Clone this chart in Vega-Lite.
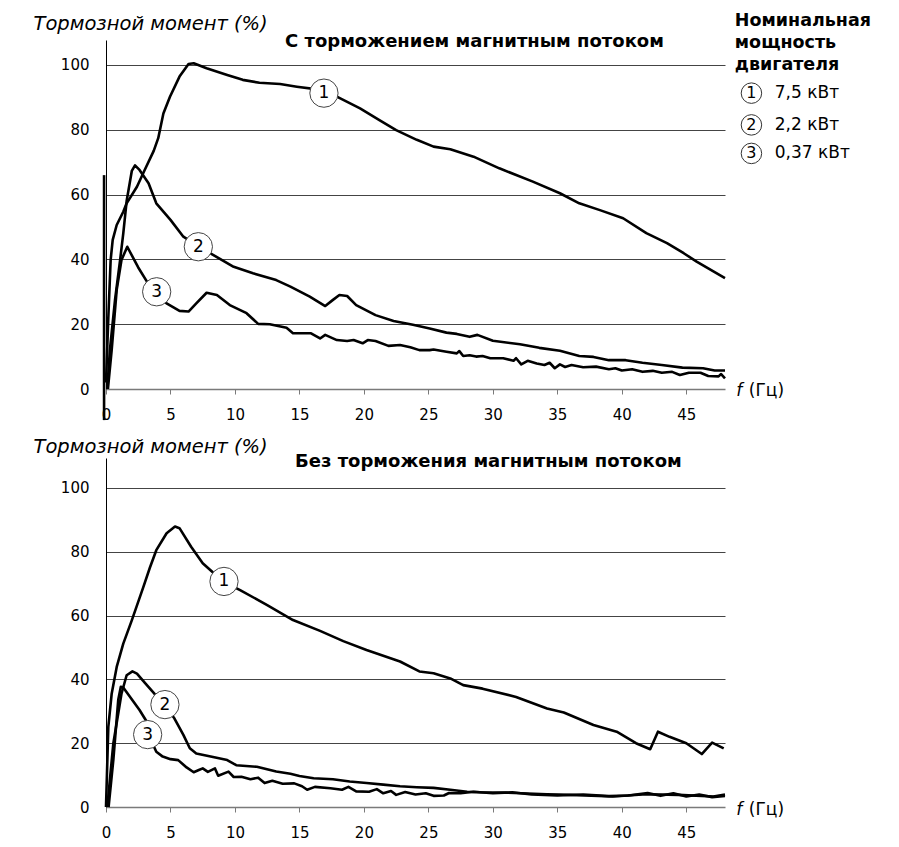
{
  "$schema": "https://vega.github.io/schema/vega-lite/v6.json",
  "background": "white",
  "autosize": {"type": "pad"},
  "padding": {"left": 33, "top": 12, "right": 5, "bottom": 5},
  "bounds": "flush",
  "spacing": 69,
  "config": {
    "font": "DejaVu Sans",
    "view": {"stroke": null},
    "title": {"font": "DejaVu Sans", "fontSize": 18, "fontWeight": "bold", "color": "black", "anchor": "start", "frame": "group", "baseline": "alphabetic"}
  },
  "datasets": {
    "top": [
      {"s": "0", "f": -0.15, "v": 66}, {"s": "0", "f": -0.15, "v": -9.6},
      {"s": "1", "f": 0.0, "v": 2}, {"s": "1", "f": 0.18, "v": 22}, {"s": "1", "f": 0.36, "v": 39.8}, {"s": "1", "f": 0.52, "v": 46}, {"s": "1", "f": 0.83, "v": 50.6}, {"s": "1", "f": 1.34, "v": 54.7}, {"s": "1", "f": 1.6, "v": 57.3}, {"s": "1", "f": 2.4, "v": 62.4}, {"s": "1", "f": 3.0, "v": 67.6}, {"s": "1", "f": 3.7, "v": 73.5}, {"s": "1", "f": 4.05, "v": 77.4}, {"s": "1", "f": 4.45, "v": 85}, {"s": "1", "f": 4.96, "v": 90.2}, {"s": "1", "f": 5.7, "v": 96.4}, {"s": "1", "f": 6.4, "v": 100.3}, {"s": "1", "f": 6.8, "v": 100.5}, {"s": "1", "f": 7.8, "v": 99}, {"s": "1", "f": 9.4, "v": 96.9}, {"s": "1", "f": 10.6, "v": 95.4}, {"s": "1", "f": 11.9, "v": 94.5}, {"s": "1", "f": 13.5, "v": 94.1}, {"s": "1", "f": 14.8, "v": 93.3}, {"s": "1", "f": 16.7, "v": 92.3}, {"s": "1", "f": 17.9, "v": 90.2}, {"s": "1", "f": 19.7, "v": 86.6}, {"s": "1", "f": 21.2, "v": 83}, {"s": "1", "f": 22.5, "v": 79.9}, {"s": "1", "f": 24.1, "v": 76.9}, {"s": "1", "f": 25.4, "v": 74.8}, {"s": "1", "f": 26.7, "v": 74.0}, {"s": "1", "f": 28.5, "v": 71.7}, {"s": "1", "f": 30.5, "v": 68.1}, {"s": "1", "f": 33.1, "v": 64}, {"s": "1", "f": 35.2, "v": 60.4}, {"s": "1", "f": 36.7, "v": 57.3}, {"s": "1", "f": 38.3, "v": 55.2}, {"s": "1", "f": 40.1, "v": 52.7}, {"s": "1", "f": 41.9, "v": 48.1}, {"s": "1", "f": 43.5, "v": 45}, {"s": "1", "f": 44.8, "v": 41.9}, {"s": "1", "f": 45.8, "v": 39.3}, {"s": "1", "f": 48, "v": 34.2},
      {"s": "2", "f": 0.1, "v": 0}, {"s": "2", "f": 0.3, "v": 12}, {"s": "2", "f": 0.7, "v": 27.5}, {"s": "2", "f": 1.1, "v": 40}, {"s": "2", "f": 1.34, "v": 48}, {"s": "2", "f": 1.6, "v": 58}, {"s": "2", "f": 2.0, "v": 67.3}, {"s": "2", "f": 2.25, "v": 69}, {"s": "2", "f": 2.6, "v": 67.6}, {"s": "2", "f": 3.3, "v": 63.5}, {"s": "2", "f": 3.9, "v": 57.3}, {"s": "2", "f": 5.0, "v": 52.2}, {"s": "2", "f": 6.0, "v": 47}, {"s": "2", "f": 7.2, "v": 43.9}, {"s": "2", "f": 8.3, "v": 41.4}, {"s": "2", "f": 9.9, "v": 37.7}, {"s": "2", "f": 11.4, "v": 35.7}, {"s": "2", "f": 13.2, "v": 33.6}, {"s": "2", "f": 14.3, "v": 31.6}, {"s": "2", "f": 15.8, "v": 28.5}, {"s": "2", "f": 17.0, "v": 25.6}, {"s": "2", "f": 17.6, "v": 27.5}, {"s": "2", "f": 18.1, "v": 29.0}, {"s": "2", "f": 18.7, "v": 28.7}, {"s": "2", "f": 19.4, "v": 25.9}, {"s": "2", "f": 20.9, "v": 22.8}, {"s": "2", "f": 22.3, "v": 21.0}, {"s": "2", "f": 23.8, "v": 19.8}, {"s": "2", "f": 25.1, "v": 18.7}, {"s": "2", "f": 26.4, "v": 17.4}, {"s": "2", "f": 27.2, "v": 17.0}, {"s": "2", "f": 28.2, "v": 16.1}, {"s": "2", "f": 28.8, "v": 16.7}, {"s": "2", "f": 30.0, "v": 14.9}, {"s": "2", "f": 32.1, "v": 13.8}, {"s": "2", "f": 33.6, "v": 12.7}, {"s": "2", "f": 35.2, "v": 11.8}, {"s": "2", "f": 36.7, "v": 10.2}, {"s": "2", "f": 37.8, "v": 9.9}, {"s": "2", "f": 39.0, "v": 8.9}, {"s": "2", "f": 40.3, "v": 8.9}, {"s": "2", "f": 41.6, "v": 8.1}, {"s": "2", "f": 43.1, "v": 7.4}, {"s": "2", "f": 44.7, "v": 6.6}, {"s": "2", "f": 46.3, "v": 6.4}, {"s": "2", "f": 47.2, "v": 5.7}, {"s": "2", "f": 48, "v": 5.7},
      {"s": "3", "f": 0.15, "v": 0}, {"s": "3", "f": 0.44, "v": 12}, {"s": "3", "f": 0.83, "v": 30.6}, {"s": "3", "f": 1.2, "v": 39.8}, {"s": "3", "f": 1.65, "v": 43.9}, {"s": "3", "f": 2.5, "v": 37.5}, {"s": "3", "f": 3.2, "v": 33}, {"s": "3", "f": 3.9, "v": 30}, {"s": "3", "f": 4.7, "v": 26.4}, {"s": "3", "f": 5.7, "v": 24.1}, {"s": "3", "f": 6.4, "v": 23.9}, {"s": "3", "f": 7.0, "v": 26.4}, {"s": "3", "f": 7.8, "v": 29.7}, {"s": "3", "f": 8.6, "v": 29.0}, {"s": "3", "f": 9.6, "v": 25.9}, {"s": "3", "f": 10.9, "v": 23.4}, {"s": "3", "f": 11.8, "v": 20.1}, {"s": "3", "f": 12.7, "v": 20.0}, {"s": "3", "f": 14.0, "v": 18.9}, {"s": "3", "f": 14.5, "v": 17.2}, {"s": "3", "f": 15.9, "v": 17.2}, {"s": "3", "f": 16.6, "v": 15.6}, {"s": "3", "f": 17.0, "v": 16.7}, {"s": "3", "f": 17.9, "v": 15.1}, {"s": "3", "f": 18.7, "v": 14.8}, {"s": "3", "f": 19.2, "v": 15.1}, {"s": "3", "f": 19.9, "v": 14.1}, {"s": "3", "f": 20.3, "v": 15.1}, {"s": "3", "f": 20.9, "v": 14.8}, {"s": "3", "f": 21.9, "v": 13.3}, {"s": "3", "f": 22.8, "v": 13.6}, {"s": "3", "f": 23.6, "v": 12.9}, {"s": "3", "f": 24.3, "v": 12.0}, {"s": "3", "f": 25.1, "v": 12.0}, {"s": "3", "f": 25.4, "v": 12.2}, {"s": "3", "f": 26.4, "v": 11.5}, {"s": "3", "f": 27.2, "v": 11.0}, {"s": "3", "f": 27.4, "v": 11.7}, {"s": "3", "f": 27.7, "v": 10.2}, {"s": "3", "f": 28.2, "v": 10.4}, {"s": "3", "f": 28.7, "v": 10.0}, {"s": "3", "f": 29.2, "v": 10.2}, {"s": "3", "f": 29.8, "v": 9.5}, {"s": "3", "f": 30.8, "v": 9.5}, {"s": "3", "f": 31.6, "v": 8.7}, {"s": "3", "f": 31.8, "v": 9.5}, {"s": "3", "f": 32.2, "v": 7.6}, {"s": "3", "f": 32.7, "v": 8.7}, {"s": "3", "f": 33.4, "v": 7.9}, {"s": "3", "f": 34.0, "v": 7.4}, {"s": "3", "f": 34.4, "v": 8.1}, {"s": "3", "f": 34.8, "v": 6.4}, {"s": "3", "f": 35.2, "v": 7.6}, {"s": "3", "f": 35.6, "v": 6.8}, {"s": "3", "f": 36.1, "v": 7.4}, {"s": "3", "f": 37.0, "v": 6.7}, {"s": "3", "f": 38.0, "v": 6.9}, {"s": "3", "f": 39.0, "v": 6.1}, {"s": "3", "f": 39.5, "v": 6.4}, {"s": "3", "f": 40.0, "v": 5.7}, {"s": "3", "f": 40.8, "v": 6.1}, {"s": "3", "f": 41.6, "v": 5.3}, {"s": "3", "f": 42.4, "v": 5.6}, {"s": "3", "f": 43.1, "v": 5.0}, {"s": "3", "f": 43.9, "v": 5.3}, {"s": "3", "f": 44.5, "v": 4.3}, {"s": "3", "f": 45.2, "v": 5.0}, {"s": "3", "f": 46.1, "v": 5.0}, {"s": "3", "f": 46.7, "v": 4.0}, {"s": "3", "f": 47.5, "v": 3.9}, {"s": "3", "f": 47.7, "v": 4.6}, {"s": "3", "f": 48, "v": 3.3}
    ],
    "bottom": [
      {"s": "1", "f": 0.0, "v": 0}, {"s": "1", "f": 0.18, "v": 25.1}, {"s": "1", "f": 0.44, "v": 35.5}, {"s": "1", "f": 0.83, "v": 43.9}, {"s": "1", "f": 1.34, "v": 51.2}, {"s": "1", "f": 2.0, "v": 58.5}, {"s": "1", "f": 2.9, "v": 69}, {"s": "1", "f": 3.4, "v": 75}, {"s": "1", "f": 3.9, "v": 80.5}, {"s": "1", "f": 4.7, "v": 85.8}, {"s": "1", "f": 5.35, "v": 87.9}, {"s": "1", "f": 5.7, "v": 87.4}, {"s": "1", "f": 6.6, "v": 81.6}, {"s": "1", "f": 7.5, "v": 76.4}, {"s": "1", "f": 9.1, "v": 70.6}, {"s": "1", "f": 10.4, "v": 68}, {"s": "1", "f": 12.5, "v": 63.3}, {"s": "1", "f": 14.5, "v": 58.6}, {"s": "1", "f": 16.6, "v": 55.2}, {"s": "1", "f": 18.4, "v": 52}, {"s": "1", "f": 20.2, "v": 49.2}, {"s": "1", "f": 22.8, "v": 45.6}, {"s": "1", "f": 24.3, "v": 42.5}, {"s": "1", "f": 25.4, "v": 41.9}, {"s": "1", "f": 26.7, "v": 40.3}, {"s": "1", "f": 27.7, "v": 38.2}, {"s": "1", "f": 29.2, "v": 37.1}, {"s": "1", "f": 31.8, "v": 34.5}, {"s": "1", "f": 34.2, "v": 30.9}, {"s": "1", "f": 35.5, "v": 29.6}, {"s": "1", "f": 37.8, "v": 25.7}, {"s": "1", "f": 39.6, "v": 23.6}, {"s": "1", "f": 41.1, "v": 20.0}, {"s": "1", "f": 42.2, "v": 18.1}, {"s": "1", "f": 42.8, "v": 23.6}, {"s": "1", "f": 43.7, "v": 22.0}, {"s": "1", "f": 45.0, "v": 20.0}, {"s": "1", "f": 46.2, "v": 16.6}, {"s": "1", "f": 47.0, "v": 20.2}, {"s": "1", "f": 47.9, "v": 18.4},
      {"s": "2", "f": 0.1, "v": 0}, {"s": "2", "f": 0.57, "v": 20}, {"s": "2", "f": 1.2, "v": 35.5}, {"s": "2", "f": 1.6, "v": 41.3}, {"s": "2", "f": 2.05, "v": 42.5}, {"s": "2", "f": 2.4, "v": 41.8}, {"s": "2", "f": 3.0, "v": 39}, {"s": "2", "f": 3.7, "v": 35.8}, {"s": "2", "f": 4.5, "v": 32}, {"s": "2", "f": 5.3, "v": 27.8}, {"s": "2", "f": 6.0, "v": 22.6}, {"s": "2", "f": 6.5, "v": 18.4}, {"s": "2", "f": 7.0, "v": 16.8}, {"s": "2", "f": 8.3, "v": 15.7}, {"s": "2", "f": 9.4, "v": 14.7}, {"s": "2", "f": 10.1, "v": 13.1}, {"s": "2", "f": 11.7, "v": 12.6}, {"s": "2", "f": 13.2, "v": 11.1}, {"s": "2", "f": 14.3, "v": 10.4}, {"s": "2", "f": 15.0, "v": 9.7}, {"s": "2", "f": 16.1, "v": 9.0}, {"s": "2", "f": 17.6, "v": 8.7}, {"s": "2", "f": 18.9, "v": 8.0}, {"s": "2", "f": 20.2, "v": 7.5}, {"s": "2", "f": 21.5, "v": 7.0}, {"s": "2", "f": 22.8, "v": 6.5}, {"s": "2", "f": 24.1, "v": 6.2}, {"s": "2", "f": 25.4, "v": 6.0}, {"s": "2", "f": 26.7, "v": 5.4}, {"s": "2", "f": 28, "v": 4.8}, {"s": "2", "f": 29, "v": 4.6}, {"s": "2", "f": 31, "v": 4.5}, {"s": "2", "f": 34.2, "v": 4.0}, {"s": "2", "f": 36, "v": 3.8}, {"s": "2", "f": 39.3, "v": 3.3}, {"s": "2", "f": 41.9, "v": 4.0}, {"s": "2", "f": 44.4, "v": 3.8}, {"s": "2", "f": 47.1, "v": 3.3}, {"s": "2", "f": 48, "v": 3.9},
      {"s": "3", "f": 0.2, "v": 0}, {"s": "3", "f": 0.57, "v": 14.8}, {"s": "3", "f": 0.95, "v": 33.6}, {"s": "3", "f": 1.15, "v": 37.7}, {"s": "3", "f": 1.35, "v": 37.4}, {"s": "3", "f": 2.6, "v": 30.4}, {"s": "3", "f": 3.15, "v": 26.8}, {"s": "3", "f": 3.6, "v": 20}, {"s": "3", "f": 3.9, "v": 17.3}, {"s": "3", "f": 4.4, "v": 15.8}, {"s": "3", "f": 5.0, "v": 15.0}, {"s": "3", "f": 5.6, "v": 14.7}, {"s": "3", "f": 6.25, "v": 12.4}, {"s": "3", "f": 6.8, "v": 10.9}, {"s": "3", "f": 7.2, "v": 11.6}, {"s": "3", "f": 7.5, "v": 12.1}, {"s": "3", "f": 7.9, "v": 11.0}, {"s": "3", "f": 8.45, "v": 12.1}, {"s": "3", "f": 8.7, "v": 9.8}, {"s": "3", "f": 9.5, "v": 11.1}, {"s": "3", "f": 9.9, "v": 9.4}, {"s": "3", "f": 10.5, "v": 9.5}, {"s": "3", "f": 11.2, "v": 8.7}, {"s": "3", "f": 11.8, "v": 9.2}, {"s": "3", "f": 12.3, "v": 7.5}, {"s": "3", "f": 12.9, "v": 8.2}, {"s": "3", "f": 13.7, "v": 7.3}, {"s": "3", "f": 14.6, "v": 7.4}, {"s": "3", "f": 15.2, "v": 6.5}, {"s": "3", "f": 15.6, "v": 5.4}, {"s": "3", "f": 16.2, "v": 6.3}, {"s": "3", "f": 17.4, "v": 5.9}, {"s": "3", "f": 18.3, "v": 5.4}, {"s": "3", "f": 18.8, "v": 6.3}, {"s": "3", "f": 19.4, "v": 4.9}, {"s": "3", "f": 20.4, "v": 4.8}, {"s": "3", "f": 21.0, "v": 5.6}, {"s": "3", "f": 21.5, "v": 4.3}, {"s": "3", "f": 22.1, "v": 5.0}, {"s": "3", "f": 22.5, "v": 3.8}, {"s": "3", "f": 23.2, "v": 4.7}, {"s": "3", "f": 24.0, "v": 3.9}, {"s": "3", "f": 24.8, "v": 4.3}, {"s": "3", "f": 25.4, "v": 3.5}, {"s": "3", "f": 26.2, "v": 3.6}, {"s": "3", "f": 26.6, "v": 4.4}, {"s": "3", "f": 27.5, "v": 4.3}, {"s": "3", "f": 28.5, "v": 4.8}, {"s": "3", "f": 30, "v": 4.3}, {"s": "3", "f": 31.5, "v": 4.6}, {"s": "3", "f": 33, "v": 3.9}, {"s": "3", "f": 35, "v": 3.6}, {"s": "3", "f": 37, "v": 3.9}, {"s": "3", "f": 39, "v": 3.4}, {"s": "3", "f": 40.5, "v": 3.6}, {"s": "3", "f": 42, "v": 4.4}, {"s": "3", "f": 43, "v": 3.5}, {"s": "3", "f": 44, "v": 4.3}, {"s": "3", "f": 45, "v": 3.3}, {"s": "3", "f": 46, "v": 3.9}, {"s": "3", "f": 47, "v": 3.1}, {"s": "3", "f": 48, "v": 3.5}
    ],
    "topLab": [{"n": "1", "f": 16.9, "v": 91.3}, {"n": "2", "f": 7.16, "v": 43.9}, {"n": "3", "f": 3.93, "v": 30.0}],
    "botLab": [{"n": "1", "f": 9.15, "v": 70.7}, {"n": "2", "f": 4.57, "v": 32.1}, {"n": "3", "f": 3.23, "v": 22.7}],
    "legend": [{"n": "1", "label": "7,5 кВт", "v": 91.3}, {"n": "2", "label": "2,2 кВт", "v": 81.5}, {"n": "3", "label": "0,37 кВт", "v": 72.7}]
  },
  "vconcat": [
    {
      "width": 619, "height": 349,
      "title": {"text": "С торможением магнитным потоком", "dx": 179, "offset": -39},
      "layer": [
        {
          "data": {"name": "top"},
          "mark": {"type": "line", "color": "black", "strokeWidth": 2.6, "strokeJoin": "round", "clip": false},
          "encoding": {
            "x": {"field": "f", "type": "quantitative", "scale": {"domain": [0, 48], "nice": false, "zero": false},
              "axis": {"values": [0, 5, 10, 15, 20, 25, 30, 35, 40, 45], "grid": false, "domainColor": "#7a7a7a", "domainWidth": 1.5, "tickColor": "#7a7a7a", "tickSize": 5, "tickWidth": 1, "labelFontSize": 15, "labelColor": "black", "labelPadding": 13, "labelFlush": false, "title": null}},
            "y": {"field": "v", "type": "quantitative", "scale": {"domain": [0, 107.7], "nice": false},
              "axis": {"values": [0, 20, 40, 60, 80, 100], "grid": true, "gridColor": "#444", "gridWidth": 1,
                "gridOpacity": {"condition": {"test": "datum.value === 0", "value": 0}, "value": 1},
                "domainColor": "black", "domainWidth": 1, "ticks": false, "labelFontSize": 15, "labelColor": "black", "labelPadding": 17,
                "title": "Тормозной момент (%)", "titleFontStyle": "italic", "titleFontWeight": "normal", "titleFontSize": 19.5, "titleColor": "black",
                "titleAngle": 0, "titleAlign": "left", "titleBaseline": "alphabetic", "titleX": -73, "titleY": -11}},
            "detail": {"field": "s"}
          }
        },
        {
          "data": {"name": "topLab"},
          "mark": {"type": "point", "shape": "circle", "size": 800, "filled": true, "fill": "white", "stroke": "#444", "strokeWidth": 1, "opacity": 1},
          "encoding": {"x": {"field": "f", "type": "quantitative"}, "y": {"field": "v", "type": "quantitative"}}
        },
        {
          "data": {"name": "topLab"},
          "mark": {"type": "text", "fontSize": 17, "align": "center", "baseline": "middle", "color": "black"},
          "encoding": {"x": {"field": "f", "type": "quantitative"}, "y": {"field": "v", "type": "quantitative"}, "text": {"field": "n"}}
        },
        {
          "data": {"name": "legend"},
          "mark": {"type": "point", "shape": "circle", "size": 420, "filled": true, "fill": "white", "stroke": "#333", "strokeWidth": 1, "opacity": 1, "clip": false},
          "encoding": {"x": {"datum": 50.05}, "y": {"field": "v", "type": "quantitative"}}
        },
        {
          "data": {"name": "legend"},
          "mark": {"type": "text", "fontSize": 16, "align": "center", "baseline": "middle", "color": "black", "clip": false},
          "encoding": {"x": {"datum": 50.05}, "y": {"field": "v", "type": "quantitative"}, "text": {"field": "n"}}
        },
        {
          "data": {"name": "legend"},
          "mark": {"type": "text", "fontSize": 17, "align": "left", "baseline": "middle", "color": "black", "clip": false},
          "encoding": {"x": {"datum": 51.86}, "y": {"field": "v", "type": "quantitative"}, "text": {"field": "label"}}
        },
        {
          "data": {"values": [{}]},
          "mark": {"type": "text", "text": ["Номинальная", "мощность", "двигателя"], "fontSize": 17.5, "fontWeight": "bold", "lineHeight": 22, "align": "left", "baseline": "alphabetic", "color": "black", "clip": false},
          "encoding": {"x": {"datum": 48.76}, "y": {"datum": 112}}
        },
        {
          "data": {"values": [{}]},
          "mark": {"type": "text", "text": "f", "fontSize": 17, "fontStyle": "italic", "align": "left", "baseline": "middle", "color": "black", "clip": false},
          "encoding": {"x": {"datum": 48.88}, "y": {"datum": -0.6}}
        },
        {
          "data": {"values": [{}]},
          "mark": {"type": "text", "text": "(Гц)", "fontSize": 17, "align": "left", "baseline": "middle", "color": "black", "clip": false},
          "encoding": {"x": {"datum": 49.85}, "y": {"datum": -0.6}}
        }
      ]
    },
    {
      "width": 619, "height": 349,
      "title": {"text": "Без торможения магнитным потоком", "dx": 189, "offset": -35},
      "layer": [
        {
          "data": {"name": "bottom"},
          "mark": {"type": "line", "color": "black", "strokeWidth": 2.6, "strokeJoin": "round", "clip": false},
          "encoding": {
            "x": {"field": "f", "type": "quantitative", "scale": {"domain": [0, 48], "nice": false, "zero": false},
              "axis": {"values": [0, 5, 10, 15, 20, 25, 30, 35, 40, 45], "grid": false, "domainColor": "#7a7a7a", "domainWidth": 1.5, "tickColor": "#7a7a7a", "tickSize": 5, "tickWidth": 1, "labelFontSize": 15, "labelColor": "black", "labelPadding": 13, "labelFlush": false, "title": null}},
            "y": {"field": "v", "type": "quantitative", "scale": {"domain": [0, 109.4], "nice": false},
              "axis": {"values": [0, 20, 40, 60, 80, 100], "grid": true, "gridColor": "#444", "gridWidth": 1,
                "gridOpacity": {"condition": {"test": "datum.value === 0", "value": 0}, "value": 1},
                "domainColor": "black", "domainWidth": 1, "ticks": false, "labelFontSize": 15, "labelColor": "black", "labelPadding": 17,
                "title": "Тормозной момент (%)", "titleFontStyle": "italic", "titleFontWeight": "normal", "titleFontSize": 19.5, "titleColor": "black",
                "titleAngle": 0, "titleAlign": "left", "titleBaseline": "alphabetic", "titleX": -73, "titleY": -6}},
            "detail": {"field": "s"}
          }
        },
        {
          "data": {"name": "botLab"},
          "mark": {"type": "point", "shape": "circle", "size": 800, "filled": true, "fill": "white", "stroke": "#444", "strokeWidth": 1, "opacity": 1},
          "encoding": {"x": {"field": "f", "type": "quantitative"}, "y": {"field": "v", "type": "quantitative"}}
        },
        {
          "data": {"name": "botLab"},
          "mark": {"type": "text", "fontSize": 17, "align": "center", "baseline": "middle", "color": "black"},
          "encoding": {"x": {"field": "f", "type": "quantitative"}, "y": {"field": "v", "type": "quantitative"}, "text": {"field": "n"}}
        },
        {
          "data": {"values": [{}]},
          "mark": {"type": "text", "text": "f", "fontSize": 17, "fontStyle": "italic", "align": "left", "baseline": "middle", "color": "black", "clip": false},
          "encoding": {"x": {"datum": 48.88}, "y": {"datum": -0.85}}
        },
        {
          "data": {"values": [{}]},
          "mark": {"type": "text", "text": "(Гц)", "fontSize": 17, "align": "left", "baseline": "middle", "color": "black", "clip": false},
          "encoding": {"x": {"datum": 49.85}, "y": {"datum": -0.85}}
        }
      ]
    }
  ]
}
